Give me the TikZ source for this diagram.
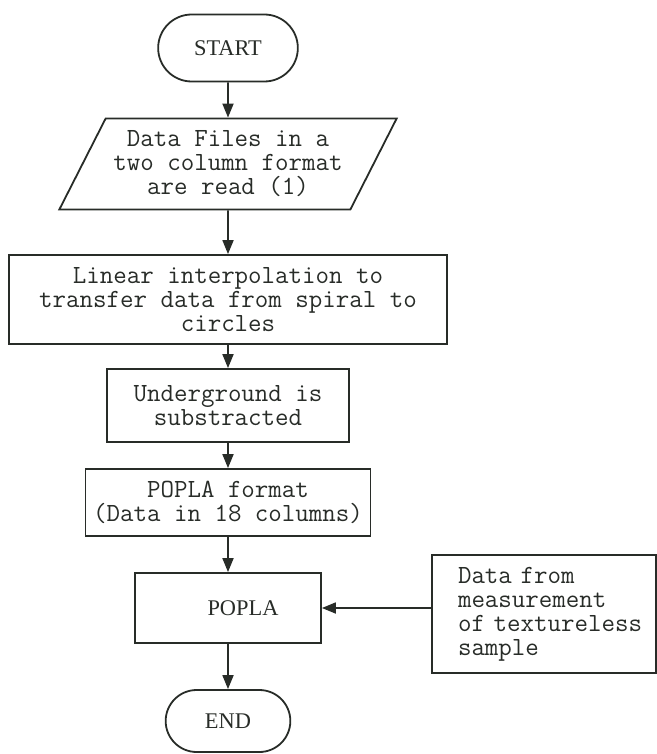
\documentclass[tikz,border=0pt]{standalone}
\usepackage{fontspec}
\setmainfont{Liberation Serif}
\usetikzlibrary{arrows.meta, shapes.geometric, shapes.misc}
\definecolor{ink}{RGB}{40,44,40}

\begin{document}
\begin{tikzpicture}[x=0.5pt,y=-0.5pt,line width=0.9pt,
  terminal/.style={draw=ink,rounded rectangle,minimum height=33.5pt,text=ink,font=\fontsize{11.2pt}{12pt}\selectfont},
  iobox/.style={draw=ink,trapezium,trapezium left angle=60,trapezium right angle=120,trapezium stretches=true,align=center,text=ink,font=\ttfamily\fontsize{13.1pt}{12pt}\selectfont},
  stepbox/.style={draw=ink,rectangle,align=center,text=ink,font=\ttfamily\fontsize{13.1pt}{12pt}\selectfont},
  flow/.style={draw=ink,-{Triangle[length=7pt,width=5.5pt]}}]
\useasboundingbox (0,0) rectangle (657,754);
\node[terminal,minimum width=76.5pt] (start) at (228,48) {START};
\node[iobox,minimum width=169pt,minimum height=45.5pt] (read) at (228,164) {Data Files in a\\two column format\\are read (1)};
\node[stepbox,minimum width=219pt,minimum height=44.5pt] (interp) at (228,299.5) {Linear interpolation to\\transfer data from spiral to\\circles};
\node[stepbox,minimum width=121pt,minimum height=36.5pt] (sub) at (228,405.5) {Underground is\\substracted};
\node[stepbox,minimum width=142.5pt,minimum height=33.5pt] (fmt) at (228,502.5) {POPLA format\\(Data in 18 columns)};
\node[stepbox,minimum width=93pt,minimum height=35pt,font=\fontsize{11.2pt}{12pt}\selectfont] (popla) at (228,608) {\hspace*{15pt}POPLA};
\node[stepbox,minimum width=112pt,minimum height=59pt,text width=86pt,inner xsep=13pt,align=left] (blank) at (544,614) {\mbox{Data from}\\\mbox{measurement}\\\mbox{of textureless}\\\mbox{sample}};
\node[terminal,minimum width=69pt,minimum height=31pt] (end) at (228,721) {END};
\draw[flow] (start) -- (read);
\draw[flow] (read) -- (interp);
\draw[flow] (interp) -- (sub);
\draw[flow] (sub) -- (fmt);
\draw[flow] (fmt) -- (popla);
\draw[flow] (popla) -- (end);
\draw[flow] (popla.east -| blank.west) -- (popla.east);
\end{tikzpicture}
\end{document}
